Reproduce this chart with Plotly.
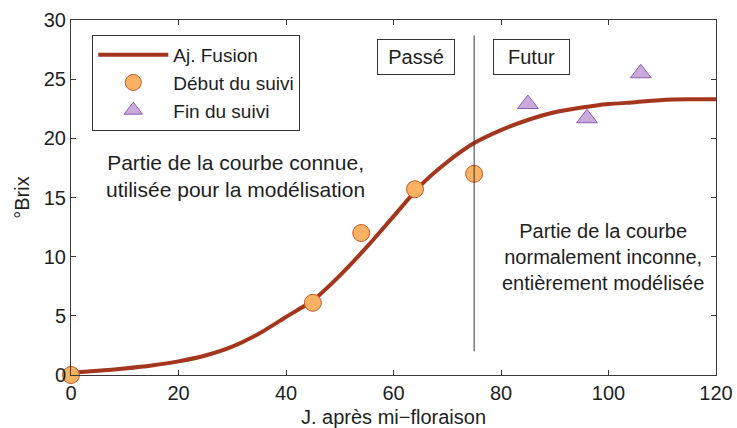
import plotly.graph_objects as go

# Ajustement du modèle (°Brix en fonction des jours après mi-floraison)
fit_days = [0, 5, 10, 15, 20, 25, 30, 35, 40, 45, 50, 55, 60, 65, 70, 75,
            80, 85, 90, 95, 100, 105, 110, 115, 120]
fit_brix = [0.2, 0.35, 0.55, 0.8, 1.15, 1.65, 2.4, 3.5, 4.9, 6.3, 8.4, 10.8,
            13.4, 16.0, 18.0, 19.6, 20.7, 21.55, 22.2, 22.6, 22.9, 23.05,
            23.25, 23.3, 23.3]

# Mesures : début et fin du suivi
start_days = [0, 45, 54, 64, 75]
start_brix = [0.0, 6.1, 12.0, 15.7, 17.0]
end_days = [85, 96, 106]
end_brix = [22.9, 21.7, 25.5]

split_day = 75
split_range = [2.0, 28.7]

x_ticks = [0, 20, 40, 60, 80, 100, 120]
y_ticks = [0, 5, 10, 15, 20, 25, 30]

FONT = "Liberation Sans, Arial, sans-serif"
AXIS_COLOR = "#3a3a3a"
TEXT_COLOR = "#1e1e1e"

fig = go.Figure()

fig.add_trace(go.Scatter(
    x=fit_days, y=fit_brix, mode="lines", name="Aj. Fusion",
    line=dict(color="#a3361d", width=4, shape="spline", smoothing=0.6),
))
fig.add_trace(go.Scatter(
    x=start_days, y=start_brix, mode="markers", name="Début du suivi",
    marker=dict(symbol="circle", size=17, color="#f9b163",
                line=dict(color="#c8582a", width=1)),
    cliponaxis=False,
))
fig.add_trace(go.Scatter(
    x=end_days, y=end_brix, mode="markers", name="Fin du suivi",
    marker=dict(symbol="triangle-up", size=18, color="#c9abdb",
                line=dict(color="#8a5db0", width=1)),
))

fig.add_shape(type="line", x0=split_day, x1=split_day,
              y0=split_range[0], y1=split_range[1],
              line=dict(color="#333333", width=1))

box = dict(bordercolor="#333333", borderwidth=1, borderpad=6,
           bgcolor="white", font=dict(family=FONT, size=20, color=TEXT_COLOR))
fig.add_annotation(x=64.2, y=26.9, text="Passé", showarrow=False,
                   width=64, **box)
fig.add_annotation(x=85.6, y=26.9, text="Futur", showarrow=False,
                   width=63, **box)

fig.add_annotation(
    x=30.6, y=16.8, showarrow=False,
    text="Partie de la courbe connue,<br>utilisée pour la modélisation",
    font=dict(family=FONT, size=21, color=TEXT_COLOR), align="center",
)
fig.add_annotation(
    x=99.0, y=10.0, showarrow=False,
    text="Partie de la courbe<br>normalement inconne,<br>entièrement modélisée",
    font=dict(family=FONT, size=20, color=TEXT_COLOR), align="center",
)

axis_common = dict(
    showgrid=False, zeroline=False, showline=True, linecolor=AXIS_COLOR,
    linewidth=1, mirror="ticks", ticks="inside", ticklen=5,
    tickcolor=AXIS_COLOR, automargin=False,
    tickfont=dict(family=FONT, size=20, color=TEXT_COLOR),
)

fig.update_xaxes(range=[0, 120], tickvals=x_ticks,
                 title=dict(text="J. après mi\u2212floraison", standoff=9,
                            font=dict(family=FONT, size=20, color=TEXT_COLOR)),
                 **axis_common)
fig.update_yaxes(range=[0, 30], tickvals=y_ticks,
                 title=dict(text="°Brix", standoff=8,
                            font=dict(family=FONT, size=20, color=TEXT_COLOR)),
                 **axis_common)

fig.update_layout(
    width=737, height=428,
    margin=dict(l=71, r=21, t=20, b=53),
    plot_bgcolor="white", paper_bgcolor="white",
    legend=dict(x=0.033, y=0.958, xanchor="left", yanchor="top",
                bordercolor="#333333", borderwidth=1, bgcolor="white",
                font=dict(family=FONT, size=19, color=TEXT_COLOR),
                itemwidth=70, tracegroupgap=0),
)

fig.write_html("out.html")
